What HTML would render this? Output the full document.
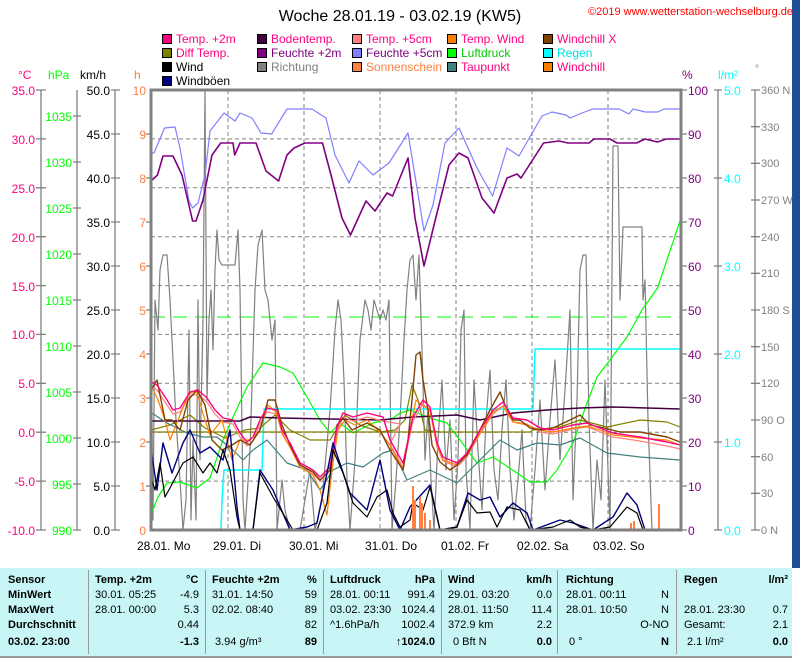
<!DOCTYPE html>
<html><head><meta charset="utf-8"><style>
body{margin:0;background:#fff;width:800px;height:659px;overflow:hidden;font-family:"Liberation Sans",sans-serif}
svg{position:absolute;left:0;top:0}
.t{position:absolute;left:0;top:568px;width:792px;height:88px;background:#c8f6f6;border-bottom:2px solid #999;font-size:11px}
.t div{position:absolute;white-space:nowrap}
.b{font-weight:bold}
</style></head><body>
<svg width="800" height="568" viewBox="0 0 800 568" font-family="Liberation Sans, sans-serif">
<rect x="792" y="0" width="8" height="659" fill="#1d4f96"/>
<text x="400" y="21" font-size="16" text-anchor="middle">Woche 28.01.19 - 03.02.19 (KW5)</text>
<text x="588" y="15" font-size="11" fill="#ff0000">©2019 www.wetterstation-wechselburg.de</text>
<g font-size="12" stroke="none">
<rect x="162.5" y="34.5" width="9" height="9" fill="#ff0080" stroke="#000"/><text x="176" y="43" fill="#ff0080">Temp. +2m</text>
<rect x="162.5" y="48.5" width="9" height="9" fill="#808000" stroke="#000"/><text x="176" y="57" fill="#ff0080">Diff Temp.</text>
<rect x="162.5" y="62.5" width="9" height="9" fill="#000" stroke="#000"/><text x="176" y="71" fill="#000">Wind</text>
<rect x="162.5" y="76.5" width="9" height="9" fill="#000080" stroke="#000"/><text x="176" y="85" fill="#000">Windböen</text>
<rect x="257.5" y="34.5" width="9" height="9" fill="#400040" stroke="#000"/><text x="271" y="43" fill="#ff0080">Bodentemp.</text>
<rect x="257.5" y="48.5" width="9" height="9" fill="#800080" stroke="#000"/><text x="271" y="57" fill="#800080">Feuchte +2m</text>
<rect x="257.5" y="62.5" width="9" height="9" fill="#808080" stroke="#000"/><text x="271" y="71" fill="#808080">Richtung</text>
<rect x="352.5" y="34.5" width="9" height="9" fill="#ff8080" stroke="#000"/><text x="366" y="43" fill="#ff0080">Temp. +5cm</text>
<rect x="352.5" y="48.5" width="9" height="9" fill="#8080ff" stroke="#000"/><text x="366" y="57" fill="#800080">Feuchte +5cm</text>
<rect x="352.5" y="62.5" width="9" height="9" fill="#ff8040" stroke="#000"/><text x="366" y="71" fill="#ff8040">Sonnenschein</text>
<rect x="447.5" y="34.5" width="9" height="9" fill="#ff8000" stroke="#000"/><text x="461" y="43" fill="#ff0080">Temp. Wind</text>
<rect x="447.5" y="48.5" width="9" height="9" fill="#00ff00" stroke="#000"/><text x="461" y="57" fill="#00cc00">Luftdruck</text>
<rect x="447.5" y="62.5" width="9" height="9" fill="#408080" stroke="#000"/><text x="461" y="71" fill="#ff0080">Taupunkt</text>
<rect x="543.5" y="34.5" width="9" height="9" fill="#804000" stroke="#000"/><text x="557" y="43" fill="#ff0080">Windchill X</text>
<rect x="543.5" y="48.5" width="9" height="9" fill="#00ffff" stroke="#000"/><text x="557" y="57" fill="#00e0e0">Regen</text>
<rect x="543.5" y="62.5" width="9" height="9" fill="#ff8000" stroke="#000"/><text x="557" y="71" fill="#ff0080">Windchill</text>
</g>
<g font-size="12">
<text x="18" y="79" fill="#ff0080">°C</text><text x="48" y="79" fill="#00ff00">hPa</text><text x="80" y="79" fill="#000">km/h</text><text x="134" y="79" fill="#ff8040">h</text>
<text x="682" y="79" fill="#800080">%</text><text x="718" y="79" fill="#00ffff">l/m²</text><text x="755" y="72" fill="#808080" font-size="10">°</text>
</g>
<!-- axes -->
<g stroke="#808080" stroke-width="1.3" fill="none">
<line x1="41" y1="90" x2="41" y2="530"/><line x1="77" y1="90" x2="77" y2="530"/><line x1="115" y1="90" x2="115" y2="530"/>
<line x1="718" y1="90" x2="718" y2="530"/><line x1="755" y1="90" x2="755" y2="530"/>
<path d="M36 90H46M36 138.9H46M36 187.8H46M36 236.7H46M36 285.6H46M36 334.4H46M36 383.3H46M36 432.2H46M36 481.1H46M36 530H46"/>
<path d="M73 116H81M73 162H81M73 208H81M73 254H81M73 300H81M73 346H81M73 392H81M73 438H81M73 484H81M73 530H81"/>
<path d="M111 90H120M111 134H120M111 178H120M111 222H120M111 266H120M111 310H120M111 354H120M111 398H120M111 442H120M111 486H120M111 530H120"/>
<path d="M146 134H151M146 178H151M146 222H151M146 266H151M146 310H151M146 354H151M146 398H151M146 442H151M146 486H151"/>
<path d="M681 90H687M681 134H687M681 178H687M681 222H687M681 266H687M681 310H687M681 354H687M681 398H687M681 442H687M681 486H687M681 530H687"/>
<path d="M714 90H722M714 178H722M714 266H722M714 354H722M714 442H722M714 530H722"/>
<path d="M751 90H760M751 126.7H760M751 163.3H760M751 200H760M751 236.7H760M751 273.3H760M751 310H760M751 346.7H760M751 383.3H760M751 420H760M751 456.7H760M751 493.3H760M751 530H760"/>
</g>
<g font-size="12" text-anchor="end" fill="#ff0080">
<text x="35" y="95">35.0</text><text x="35" y="144">30.0</text><text x="35" y="193">25.0</text><text x="35" y="242">20.0</text><text x="35" y="291">15.0</text><text x="35" y="339">10.0</text><text x="35" y="388">5.0</text><text x="35" y="437">0.0</text><text x="35" y="486">-5.0</text><text x="35" y="535">-10.0</text>
</g>
<g font-size="12" text-anchor="end" fill="#00ff00">
<text x="72" y="121">1035</text><text x="72" y="167">1030</text><text x="72" y="213">1025</text><text x="72" y="259">1020</text><text x="72" y="305">1015</text><text x="72" y="351">1010</text><text x="72" y="397">1005</text><text x="72" y="443">1000</text><text x="72" y="489">995</text><text x="72" y="535">990</text>
</g>
<g font-size="12" text-anchor="end" fill="#000">
<text x="110" y="95">50.0</text><text x="110" y="139">45.0</text><text x="110" y="183">40.0</text><text x="110" y="227">35.0</text><text x="110" y="271">30.0</text><text x="110" y="315">25.0</text><text x="110" y="359">20.0</text><text x="110" y="403">15.0</text><text x="110" y="447">10.0</text><text x="110" y="491">5.0</text><text x="110" y="535">0.0</text>
</g>
<g font-size="12" text-anchor="end" fill="#ff8040">
<text x="146" y="95">10</text><text x="146" y="139">9</text><text x="146" y="183">8</text><text x="146" y="227">7</text><text x="146" y="271">6</text><text x="146" y="315">5</text><text x="146" y="359">4</text><text x="146" y="403">3</text><text x="146" y="447">2</text><text x="146" y="491">1</text><text x="146" y="535">0</text>
</g>
<g font-size="12" fill="#800080">
<text x="688" y="95">100</text><text x="688" y="139">90</text><text x="688" y="183">80</text><text x="688" y="227">70</text><text x="688" y="271">60</text><text x="688" y="315">50</text><text x="688" y="359">40</text><text x="688" y="403">30</text><text x="688" y="447">20</text><text x="688" y="491">10</text><text x="688" y="535">0</text>
</g>
<g font-size="12" fill="#00ffff">
<text x="724" y="95">5.0</text><text x="724" y="183">4.0</text><text x="724" y="271">3.0</text><text x="724" y="359">2.0</text><text x="724" y="447">1.0</text><text x="724" y="535">0.0</text>
</g>
<g font-size="11" fill="#808080">
<text x="761" y="94">360 N</text><text x="761" y="131">330</text><text x="761" y="167">300</text><text x="761" y="204">270 W</text><text x="761" y="241">240</text><text x="761" y="277">210</text><text x="761" y="314">180 S</text><text x="761" y="351">150</text><text x="761" y="387">120</text><text x="761" y="424">90 O</text><text x="761" y="461">60</text><text x="761" y="497">30</text><text x="761" y="534">0 N</text>
</g>
<g font-size="12" fill="#000">
<text x="137" y="550">28.01.  Mo</text><text x="213" y="550">29.01.  Di</text><text x="289" y="550">30.01.  Mi</text><text x="365" y="550">31.01.  Do</text><text x="441" y="550">01.02.  Fr</text><text x="517" y="550">02.02.  Sa</text><text x="593" y="550">03.02.  So</text>
</g>
<!-- grid -->
<g stroke="#808080" stroke-dasharray="4,3" fill="none">
<path d="M151 138.9H681M151 187.8H681M151 236.7H681M151 285.6H681M151 334.4H681M151 383.3H681M151 432.2H681M151 481.1H681"/>
<path d="M228 90V530M304 90V530M380 90V530M456 90V530M532 90V530M608 90V530"/>
</g>
<line x1="151" y1="317" x2="681" y2="317" stroke="#00ff00" stroke-dasharray="14,8"/>
<g fill="none" stroke-width="1.2" stroke-linejoin="round">
<polyline stroke="#808080" points="151,320 153,520 155,300 158,330 160,270 163,255 167,255 170,300 173,360 176,420 180,480 183,530 186,500 189,330 191,520 193,440 196,520 198,300 200,460 203,320 205,90 207,400 209,320 211,290 213,350 215,270 217,230 219,260 222,265 235,265 238,230 240,290 243,500 245,530 250,450 255,290 258,245 262,230 265,290 268,300 272,340 275,320 277,530 282,480 285,510 290,530 300,530 310,470 315,530 322,500 330,410 335,330 338,300 341,320 344,380 347,480 350,530 355,460 360,340 365,300 368,310 371,330 374,300 377,310 380,320 383,310 386,320 389,300 392,530 396,480 400,420 404,340 407,290 410,260 413,255 416,300 419,255 422,350 425,460 428,410 431,480 434,530 438,440 442,380 446,470 450,420 454,520 458,460 461,330 464,310 466,470 470,530 474,380 478,450 482,510 486,420 490,370 494,470 498,500 502,430 506,380 510,470 514,520 518,480 522,430 526,520 530,530 535,470 540,400 545,490 550,420 555,360 560,460 565,390 570,310 573,500 577,400 580,270 583,255 586,255 589,420 593,530 597,460 601,500 605,380 610,530 613,146 618,146 620,300 623,227 642,227 643,300 645,280 648,420 652,530 680,530"/>
<polyline stroke="#8080ff" points="151,153 154,153 164.5,128 175,127 180,148 189,201 192.6,208 198,203 205,175 210,131 224,113 235,121 240,113 252,118 261,133 271.6,134 287,109 312,109 326,118 335,155 349,183 359,161 373,175 389,163 408,133 424,231 433,205 445,143 459,128 477,168 492.6,196 507,148 519,156 542,116 552,112 566,115 570,118 582,113 592.6,109 619,109 629,114 633,109 645,112 657.5,112 664.5,109 680,109"/>
<polyline stroke="#800080" stroke-width="1.6" points="151,181 157.5,175 163,156 173,156 182,175 192.6,221 196,221 203,200 212,155 220.7,143 233,143 234.7,155 240,143 256,143 266,171 278.6,181 287,155 294,148 305,143 322.5,143 331,175 342,218 350.5,235 366,201 375,211 387,193 392.6,196 408,158 415,218 424,266 435,221 449,165 459,153 468,158 482,198 494,213 507,178 517,174 521,178 543.5,143 559,141 568,143 589,143 594,139 610,139 617,143 636.5,143 645,139 657.5,142 666,139 680,139"/>
<polyline stroke="#00ff00" points="151.7,513 158,497 167,483 180,482 197,488 210,478 223,440 233,417 247,387 263,363 280,367 293,373 307,397 320,420 330,433 340,423 353,433 373,423 393,418 400,413 410,410 430,418 447,423 460,440 477,463 493,457 517,473 530,482 547,482 557,470 573,443 587,403 597,377 610,360 627,337 642,310 657.5,288 680,221"/>
<polyline stroke="#00ffff" stroke-width="1.5" points="221,530 222,500 224,470 262,470 264,409 533,409 535,349 680,349"/>
<polyline stroke="#808000" points="151,432 530,432 533,430 560,427 580,420 607,427 640,420 667,422 680,427"/>
<polyline stroke="#808000" points="151,430 170,425 190,415 205,428 225,438 245,430 260,428 275,415 290,430 310,440 330,440 345,415 360,425 380,432 395,430 405,420 412,385 418,400 425,430 440,432"/>
<polyline stroke="#400040" stroke-width="1.5" points="151,421 240,421 250,417 280,418 380,420 413,417 457,415 480,420 513,413 547,410 580,408 613,407 680,409"/>
<polyline stroke="#408080" points="151.7,413 167,423 187,433 203,437 217,437 233,450 243,460 253,450 267,440 287,463 307,470 320,490 333,470 347,463 363,467 383,453 393,450 407,480 430,470 457,483 477,463 500,440 517,450 537,443 560,445 580,438 607,453 640,457 680,460"/>
<polyline stroke="#ff8080" points="151.7,386 157,390 167,405 173,414 180,412 190,396 198,394 207,402 215,414 223,422 233,424 240,437 247,446 253,441 260,424 267,412 277,414 282,434 290,447 300,467 313,474 320,481 330,471 337,431 343,417 353,421 367,417 383,421 400,424 390,444 403,467 413,421 423,404 430,411 437,447 443,461 457,467 467,457 480,434 493,414 503,406 513,422 527,424 540,432 553,434 573,429 587,427 600,432 613,437 640,441 667,446 680,449"/>
<polyline stroke="#ff8000" points="151,385 158,400 165,420 170,440 178,420 188,395 196,390 205,420 210,435 222,420 232,460 240,440 250,440 260,430 268,405 276,412 283,435 290,447 300,467 313,475 320,490 327,515 332,470 338,430 345,420 355,425 367,420 380,432 390,445 403,470 410,430 416,400 422,405 430,410 437,445 443,460 457,465 467,455 480,433 493,412 503,406 513,422 527,425 540,430 553,432 573,428 587,426 600,430 613,435 640,438 667,440 680,445"/>
<polyline stroke="#804000" stroke-width="1.4" points="151,390 157,380 165,420 172,420 180,430 188,400 197,390 205,405 212,440 222,450 232,445 240,440 250,445 260,430 268,400 275,400 282,425 290,445 300,465 313,472 320,480 330,470 337,425 343,418 352,430 367,423 380,430 390,450 403,470 408,440 412,400 416,355 420,352 423,380 428,410 432,445 440,462 450,470 457,465 467,455 480,430 490,410 500,392 505,405 513,420 520,420 530,428 540,430 553,428 570,420 580,415 590,425 600,427 620,432 640,432 667,437 680,442"/>
<polyline stroke="#ff0080" stroke-width="1.4" points="151.7,382 157,385 167,400 173,410 180,408 190,392 198,390 207,398 215,410 223,418 233,420 240,433 247,442 253,437 260,420 267,408 277,410 282,430 290,443 300,463 313,470 320,477 330,467 337,427 343,413 353,417 367,413 383,417 390,440 403,463 413,417 423,400 430,407 437,443 443,457 457,463 467,453 480,430 493,410 503,402 513,418 527,420 540,428 553,430 573,425 587,423 600,428 613,433 640,437 667,442 680,445"/>
<polyline stroke="#000080" stroke-width="1.4" points="151.7,453 157,490 163,443 172,473 183,443 190,430 200,453 210,447 223,460 230,430 237,507 240,530 253,530 260,470 273,490 290,530 307,527 317,523 333,443 350,493 367,510 380,460 390,510 400,530 410,507 430,485 440,530 457,527 468,493 480,500 490,497 500,517 513,503 527,513 533,530 560,520 573,523 593,530 613,517 627,493 637,505 645,530 680,530"/>
<polyline stroke="#000" stroke-width="1.2" points="151.7,480 155,490 160,463 165,497 170,488 183,463 193,457 203,473 210,463 217,473 223,450 230,470 237,517 240,530 253,530 260,473 273,497 287,520 293,530 317,530 327,503 333,450 343,473 353,503 367,517 377,497 387,490 393,513 400,527 410,520 413,503 423,510 430,487 440,530 457,527 467,500 477,513 490,512 497,527 507,507 520,510 530,530 553,527 570,520 580,527 593,530 610,527 627,507 637,513 643,530 680,530"/>
</g>
<g fill="#ff8040">
<rect x="412" y="486" width="2" height="44"/><rect x="414" y="500" width="2" height="30"/><rect x="419" y="497" width="2" height="33"/><rect x="421" y="503" width="2" height="27"/><rect x="424" y="513" width="2" height="17"/><rect x="429" y="520" width="2" height="10"/><rect x="630" y="523" width="2" height="7"/><rect x="633" y="521" width="2" height="9"/><rect x="658" y="504" width="2" height="26"/>
</g>
<rect x="151" y="90" width="530" height="440" fill="none" stroke="#808080" stroke-width="3"/>
</svg>
<div class="t">
<div class="b" style="left:8px;top:6px">Sensor</div><div class="b" style="left:8px;top:21px">MinWert</div><div class="b" style="left:8px;top:36px">MaxWert</div><div class="b" style="left:8px;top:51px">Durchschnitt</div><div class="b" style="left:8px;top:68px">03.02. 23:00</div>
<div style="left:88px;top:2px;width:1px;height:84px;background:#999"></div>
<div class="b" style="left:95px;top:6px">Temp. +2m</div><div class="b" style="left:186px;top:6px">°C</div>
<div style="left:95px;top:21px">30.01.  05:25</div><div style="right:593px;top:21px">-4.9</div>
<div style="left:95px;top:36px">28.01.  00:00</div><div style="right:593px;top:36px">5.3</div>
<div style="right:593px;top:51px">0.44</div><div class="b" style="right:593px;top:68px">-1.3</div>
<div style="left:205px;top:2px;width:1px;height:84px;background:#999"></div>
<div class="b" style="left:212px;top:6px">Feuchte +2m</div><div class="b" style="left:307px;top:6px">%</div>
<div style="left:212px;top:21px">31.01.  14:50</div><div style="right:475px;top:21px">59</div>
<div style="left:212px;top:36px">02.02.  08:40</div><div style="right:475px;top:36px">89</div>
<div style="right:475px;top:51px">82</div><div style="left:215px;top:68px">3.94 g/m³</div><div class="b" style="right:475px;top:68px">89</div>
<div style="left:323px;top:2px;width:1px;height:84px;background:#999"></div>
<div class="b" style="left:330px;top:6px">Luftdruck</div><div class="b" style="right:357px;top:6px">hPa</div>
<div style="left:330px;top:21px">28.01.  00:11</div><div style="right:357px;top:21px">991.4</div>
<div style="left:330px;top:36px">03.02.  23:30</div><div style="right:357px;top:36px">1024.4</div>
<div style="left:330px;top:51px">^1.6hPa/h</div><div style="right:357px;top:51px">1002.4</div><div class="b" style="right:357px;top:68px">↑1024.0</div>
<div style="left:441px;top:2px;width:1px;height:84px;background:#999"></div>
<div class="b" style="left:448px;top:6px">Wind</div><div class="b" style="right:240px;top:6px">km/h</div>
<div style="left:448px;top:21px">29.01.  03:20</div><div style="right:240px;top:21px">0.0</div>
<div style="left:448px;top:36px">28.01.  11:50</div><div style="right:240px;top:36px">11.4</div>
<div style="left:448px;top:51px">372.9 km</div><div style="right:240px;top:51px">2.2</div>
<div style="left:453px;top:68px">0 Bft N</div><div class="b" style="right:240px;top:68px">0.0</div>
<div style="left:557px;top:2px;width:1px;height:84px;background:#999"></div>
<div class="b" style="left:566px;top:6px">Richtung</div>
<div style="left:566px;top:21px">28.01.  00:11</div><div style="right:123px;top:21px">N</div>
<div style="left:566px;top:36px">28.01.  10:50</div><div style="right:123px;top:36px">N</div>
<div style="right:123px;top:51px">O-NO</div><div style="left:569px;top:68px">0 °</div><div class="b" style="right:123px;top:68px">N</div>
<div style="left:676px;top:2px;width:1px;height:84px;background:#999"></div>
<div class="b" style="left:684px;top:6px">Regen</div><div class="b" style="right:4px;top:6px">l/m²</div>
<div style="left:684px;top:36px">28.01.  23:30</div><div style="right:4px;top:36px">0.7</div>
<div style="left:684px;top:51px">Gesamt:</div><div style="right:4px;top:51px">2.1</div>
<div style="left:687px;top:68px">2.1 l/m²</div><div class="b" style="right:4px;top:68px">0.0</div>
</div>
</body></html>
